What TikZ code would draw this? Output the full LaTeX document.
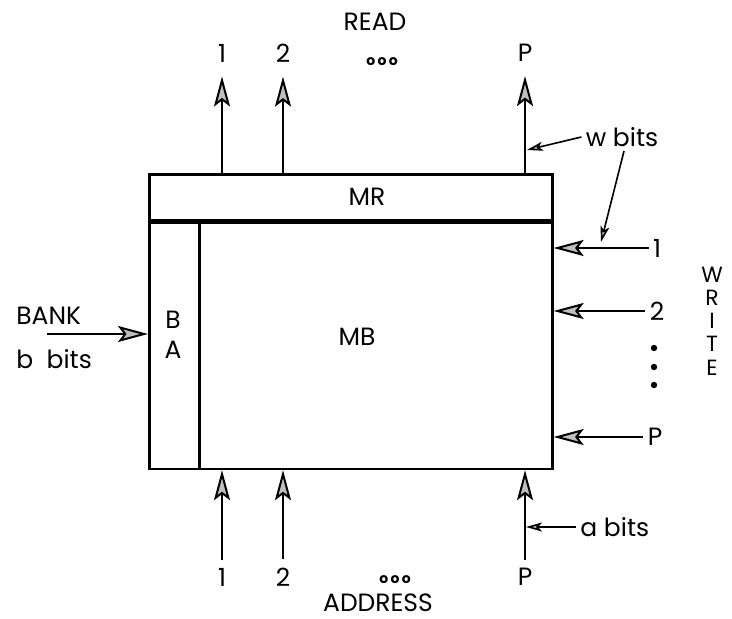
\documentclass[tikz,border=0pt]{standalone}
\usepackage{fontspec}
\setmainfont{Poppins}
\usetikzlibrary{arrows.meta,positioning,calc}

\begin{document}
\begin{tikzpicture}[
  x=0.5pt, y=-0.5pt,
  font=\fontsize{12.5}{15}\selectfont,
  part/.style={draw, line width=1.3pt, inner sep=0pt},
  lbl/.style={inner sep=2pt},
  dotmark/.style={circle, fill, inner sep=0pt, minimum size=3.2pt},
  bus/.style={line width=1pt,
              -{Stealth[length=15pt, width=8pt, inset=3pt, fill=black!25]}},
  note/.style={line width=0.8pt,
               -{Stealth[length=8pt, width=4.5pt, inset=2pt, fill=black!25]}}]
  \useasboundingbox (0,0) rectangle (732,619);
  % register, bank address and bank
  \node[part, minimum width=201.5pt, minimum height=23pt, anchor=north west] (mr) at (148,173) {};
  \node[part, minimum width=25pt, minimum height=123pt, anchor=north west] (ba) at (mr.south west) {};
  \node[part, minimum width=176.5pt, minimum height=123pt, anchor=north east] (mb) at (mr.south east) {};
  \node[lbl] (mrlbl) at (367,197) {MR};
  \node[lbl] (mblbl) at (357,337) {MB};
  \node[lbl, align=center] (balbl) at (173,335) {B\\A};
  % read ports
  \node[lbl] (read) at (375,22) {READ};
  \node[lbl] (rd1) at (222,53) {1};
  \node[lbl] (rd2) at (283,53) {2};
  \node[lbl] (rdp) at (525,53) {P};
  \node[lbl, font=\bfseries\scriptsize] (rddots) at (382,62) {o\,o\,o};
  \draw[bus, shorten >=5pt] (rd1 |- mr.north) -- (rd1);
  \draw[bus, shorten >=5pt] (rd2 |- mr.north) -- (rd2);
  \draw[bus, shorten >=5pt] (rdp |- mr.north) -- (rdp);
  % address ports
  \node[lbl] (ad1) at (222,577) {1};
  \node[lbl] (ad2) at (283,577) {2};
  \node[lbl] (adp) at (525,577) {P};
  \node[lbl, font=\bfseries\scriptsize] (addots) at (395,580) {o\,o\,o};
  \node[lbl] (address) at (378,603) {ADDRESS};
  \draw[bus, shorten <=2pt] (ad1) -- (ad1 |- mb.south);
  \draw[bus, shorten <=2pt] (ad2) -- (ad2 |- mb.south);
  \draw[bus, shorten <=2pt] (adp) -- (adp |- mb.south);
  % write ports
  \node[lbl] (wr1) at (657,248) {1};
  \node[lbl] (wr2) at (657,311) {2};
  \node[lbl] (wrp) at (655,437) {P};
  \foreach \y [count=\i] in {348,367,385}
    \node[dotmark] (wd\i) at (654,\y) {};
  \node[lbl, align=center, font=\fontsize{11}{11.6}\selectfont] (write) at (712,321) {W\\R\\I\\T\\E};
  \draw[bus] (wr1) -- (wr1 -| mb.east);
  \draw[bus] (wr2) -- (wr2 -| mb.east);
  \draw[bus] (wrp) -- (wrp -| mb.east);
  % bank input
  \node[lbl, anchor=west] (bank) at (12,316) {BANK};
  \node[lbl, anchor=west] (bbits) at (12,359) {b\ \ bits};
  \coordinate (bankin) at (47,334);
  \draw[bus] (bankin) -- (bankin -| ba.west);
  % widths
  \node[lbl] (wbits) at (622,137) {w bits};
  \coordinate (wtip1) at (527,150);
  \coordinate (wtip2) at (601,242);
  \draw[note] (wbits.west) -- (wtip1);
  \draw[note] ($(wbits.south)+(2,0)$) -- (wtip2);
  \node[lbl, anchor=west] (abits) at (576,527) {a bits};
  \coordinate (atip) at (526,527);
  \draw[note] (abits.west) -- (atip);
\end{tikzpicture}
\end{document}
